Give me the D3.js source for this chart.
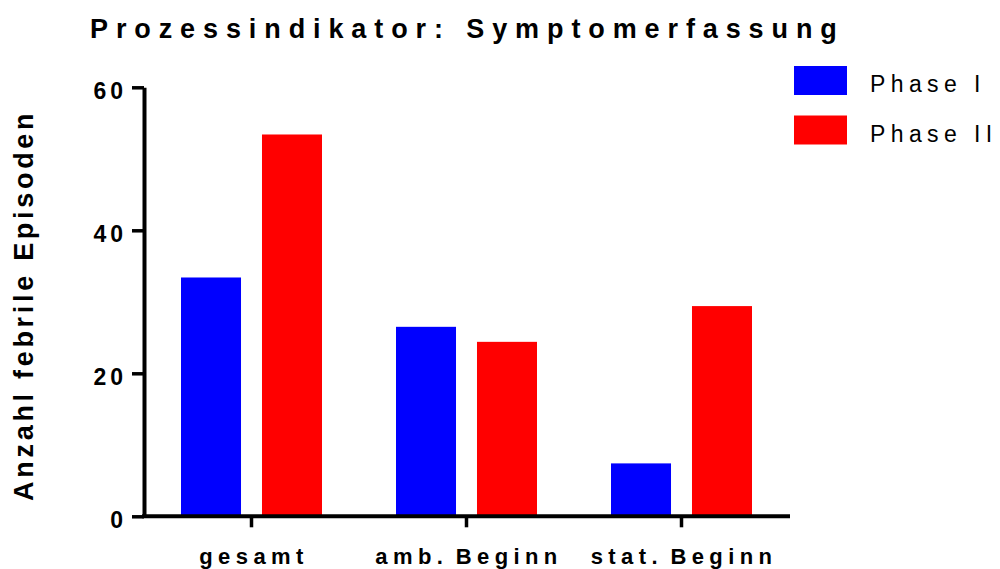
<!DOCTYPE html>
<html>
<head>
<meta charset="utf-8">
<script src="https://cdn.jsdelivr.net/npm/d3@7"></script>
<style>
  body { margin: 0; background: #fff; }
  svg { display: block; font-family: "Liberation Sans", Arial, sans-serif; }
</style>
</head>
<body>
<div id="chart"></div>
<script>
// Data
var categories = ['gesamt', 'amb. Beginn', 'stat. Beginn'];
var series     = ['Phase I', 'Phase II'];
var phase1     = [33.4, 26.5, 7.4];
var phase2     = [53.4, 24.4, 29.4];
var y_ticks    = [0, 20, 40, 60];

var colors = ['#0000ff', '#ff0000'];

var width  = 1000;
var height = 569;

var data = categories.map(function(c, i) {
    return {category: c, values: [phase1[i], phase2[i]]};
});

var svg = d3.select('#chart')
    .append('svg')
    .attr('width', width)
    .attr('height', height);

svg.append('rect')
    .attr('width', width)
    .attr('height', height)
    .attr('fill', '#fff');

// Scales
var x0 = d3.scaleBand()
    .domain(categories)
    .range([144, 789])
    .padding(0);

var x1 = d3.scaleBand()
    .domain(series)
    .range([37, 178])
    .paddingInner(0.259)
    .paddingOuter(0);

var y = d3.scaleLinear()
    .domain([0, 60])
    .range([516.3, 87.3]);

// Bars
var groups = svg.selectAll('g.cat')
    .data(data)
    .enter()
    .append('g')
    .attr('class', 'cat')
    .attr('transform', function(d) {
        return 'translate(' + x0(d.category) + ',0)';
    });

groups.selectAll('rect')
    .data(function(d) {
        return d.values.map(function(v, i) { return {key: series[i], value: v, i: i}; });
    })
    .enter()
    .append('rect')
    .attr('x', function(d) { return x1(d.key); })
    .attr('width', x1.bandwidth())
    .attr('y', function(d) { return y(d.value); })
    .attr('height', function(d) { return y(0) - y(d.value); })
    .attr('fill', function(d) { return colors[d.i]; });

// Y axis
var y_axis = d3.axisLeft(y)
    .tickValues(y_ticks)
    .tickSize(12)
    .tickSizeOuter(0);

var gy = svg.append('g')
    .attr('transform', 'translate(144,0)')
    .call(y_axis);

gy.select('.domain').attr('stroke', '#000').attr('stroke-width', 4);
gy.selectAll('.tick line').attr('stroke', '#000').attr('stroke-width', 3.5);
gy.selectAll('.tick text')
    .attr('x', -17)
    .attr('dy', 11.5)
    .attr('fill', '#000')
    .style('font-size', '23px')
    .style('font-weight', 'bold')
    .style('letter-spacing', '4px')
    .style('font-family', '"Liberation Sans", Arial, sans-serif');

// X axis
var x_axis = d3.axisBottom(x0)
    .tickSize(11)
    .tickSizeOuter(0);

var gx = svg.append('g')
    .attr('transform', 'translate(0,' + y(0) + ')')
    .call(x_axis);

gx.select('.domain').attr('stroke', '#000').attr('stroke-width', 4)
    .attr('d', 'M142,0H790');
gx.selectAll('.tick line').attr('stroke', '#000').attr('stroke-width', 3.5);
gx.selectAll('.tick text')
    .attr('y', 47.5)
    .attr('dy', 0)
    .attr('dx', 2.5)
    .attr('fill', '#000')
    .style('font-size', '22px')
    .style('font-weight', 'bold')
    .style('letter-spacing', '5.4px')
    .style('word-spacing', '-4px')
    .style('font-family', '"Liberation Sans", Arial, sans-serif');

// Title
svg.append('text')
    .attr('x', 90)
    .attr('y', 38)
    .attr('font-size', 27 + 'px')
    .attr('font-weight', 'bold')
    .style('letter-spacing', '7.9px')
    .text('Prozessindikator: Symptomerfassung');

// Y-axis label
svg.append('text')
    .attr('transform', 'translate(33,' + (303.5 + 1.8) + ') rotate(-90)')
    .attr('text-anchor', 'middle')
    .attr('font-size', 27 + 'px')
    .attr('font-weight', 'bold')
    .style('letter-spacing', '3.7px')
    .text('Anzahl febrile Episoden');

// Legend
var legend = svg.selectAll('g.legend')
    .data(series)
    .enter()
    .append('g')
    .attr('class', 'legend')
    .attr('transform', function(d, i) {
        return 'translate(794,' + (66 + i * 49.5) + ')';
    });

legend.append('rect')
    .attr('width', 53)
    .attr('height', 29)
    .attr('fill', function(d, i) { return colors[i]; });

legend.append('text')
    .attr('x', 76)
    .attr('y', 26)
    .attr('font-size', 23 + 'px')
    .style('letter-spacing', '5.4px')
    .text(function(d) { return d; });
</script>
</body>
</html>
